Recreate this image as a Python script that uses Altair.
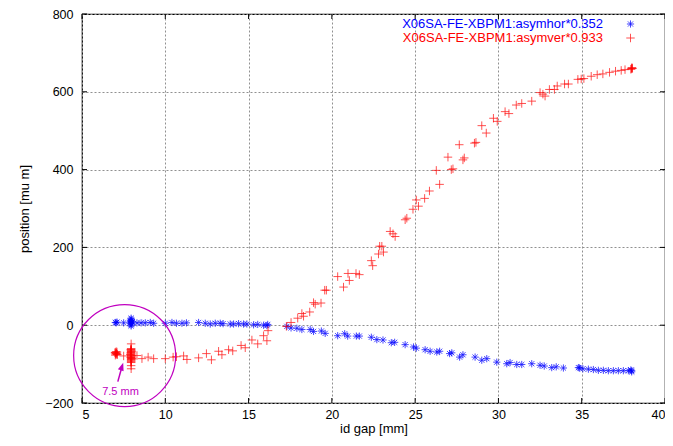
import altair as alt
import pandas as pd

# ---------------- data ----------------
hor_gap = [7.0, 7.05, 7.1, 7.5, 7.9, 7.95, 7.95, 7.95, 7.95, 8.0,
           8.3, 8.55, 8.8, 9.1, 9.3, 10.0, 10.4, 10.67, 11.0, 11.27,
           12.0, 12.4, 12.7, 13.0, 13.3, 13.47, 13.9, 14.1, 14.4, 14.7,
           14.9, 15.3, 15.55, 15.9, 16.1, 16.15, 17.3, 17.55, 17.9, 18.2,
           18.7, 18.9, 19.37, 19.6, 20.35, 20.77, 20.95, 21.47, 21.65, 22.37,
           22.7, 23.07, 23.57, 23.77, 24.4, 24.9, 25.07, 25.6, 25.9, 26.3,
           26.47, 27.07, 27.2, 27.67, 27.87, 28.6, 29.0, 29.3, 29.9, 30.5,
           30.7, 31.1, 31.4, 32.0, 32.5, 32.75, 33.2, 33.47, 33.9, 34.8,
           34.87, 35.07, 35.4, 35.7, 36.0, 36.3, 36.6, 36.9, 37.2, 37.5,
           37.8, 37.95, 38.0, 38.0, 7.95, 7.95, 7.9, 8.0]
hor_pos = [7, 6, 8, 6, 10, 18, 12, 4, -2, 8,
           6, 6, 6, 7, 5, 5, 7, 5, 5, 6,
           7, 5, 3, 5, 5, 4, 3, 3, 4, 3,
           3, 1, 2, 0, -1, 2, -3, -7, -8, -11,
           -11, -16, -15, -21, -27, -22, -28, -28, -28, -31,
           -37, -38, -45, -44, -50, -56, -59, -63, -67, -69,
           -67, -73, -71, -82, -76, -82, -90, -86, -95, -99,
           -96, -101, -101, -99, -103, -105, -109, -107, -110, -109,
           -110, -112, -113, -114, -116, -116, -117, -117, -117, -117,
           -117, -115, -117, -120, 15, 1, 6, 9]

ver_gap = [7.0, 7.05, 7.1, 7.05, 7.5, 7.95, 7.95, 7.95, 7.95, 7.95,
           7.95, 7.95, 7.95, 7.95, 7.95, 7.9, 8.0, 8.3, 8.6, 8.97,
           9.3, 10.0, 10.47, 10.67, 11.1, 11.3, 12.0, 12.47, 12.77, 13.2,
           13.4, 13.8, 14.05, 14.55, 14.8, 15.2, 15.55, 15.9, 16.1, 16.17,
           17.27, 17.55, 17.95, 18.2, 18.3, 18.67, 18.9, 19.0, 19.35, 19.57,
           19.67, 20.35, 20.7, 20.97, 21.05, 21.45, 21.65, 22.37, 22.45, 22.8,
           22.87, 23.0, 23.1, 23.5, 23.67, 23.8, 24.4, 24.5, 24.87, 25.07,
           25.2, 25.57, 25.86, 26.27, 26.47, 26.97, 27.17, 27.27, 27.65, 27.87,
           27.95, 28.56, 28.65, 29.0, 29.27, 29.7, 29.93, 30.4, 30.63, 31.07,
           31.4, 32.0, 32.5, 32.67, 32.8, 33.06, 33.36, 33.53, 33.97, 34.2,
           34.77, 34.97, 35.13, 35.57, 35.93, 36.27, 36.67, 37.03, 37.37, 37.6,
           37.95, 38.0, 38.05,
           6.98, 7.02, 7.08, 7.12, 7.0, 7.1,
           7.95, 7.95, 7.95, 7.95, 7.95, 7.95, 7.95, 7.95, 7.95, 7.95,
           7.93, 7.97, 7.93, 7.97, 7.93, 7.97, 7.95, 7.95,
           37.98, 38.02]
ver_pos = [-70, -73, -76, -68, -79, -48, -60, -66, -72, -78,
           -84, -90, -96, -104, -112, -75, -85, -78, -86, -82,
           -86, -86, -82, -81, -79, -88, -84, -73, -89, -67,
           -76, -63, -66, -52, -58, -38, -48, -27, -40, -14,
           -3, 7, 18, 30, 23, 34, 58, 54, 57, 90,
           90, 125, 98, 133, 115, 133, 130, 166, 153, 183,
           203, 203, 188, 241, 235, 228, 271, 275, 298, 322,
           306, 326, 345, 398, 362, 432, 400, 402, 464, 425,
           430, 468, 470, 513, 494, 532, 524, 549, 544, 566,
           570, 576, 598, 594, 589, 606, 606, 615, 620, 620,
           632, 633, 634, 640, 644, 646, 650, 653, 655, 657,
           658, 661, 660,
           -71, -74, -72, -75, -77, -69,
           -62, -64, -68, -70, -74, -76, -80, -82, -86, -88,
           -63, -67, -71, -79, -83, -87, -92, -94,
           659, 662]

series_labels = ["X06SA-FE-XBPM1:asymhor*0.352", "X06SA-FE-XBPM1:asymver*0.933"]
x_ticks = [5, 10, 15, 20, 25, 30, 35, 40]
y_ticks = [-200, 0, 200, 400, 600, 800]

# annotation (circle around 7.5 mm region, arrow and label)
circle_gap, circle_pos = [7.56], [-78]
arrow_gap, arrow_pos, arrow_gap2, arrow_pos2 = [7.15], [-145], [7.39], [-108]
head_gap, head_pos = [7.40], [-106]
note_gap, note_pos, note_text = [7.31], [-172], ["7.5 mm"]

assert len(hor_gap) == len(hor_pos) and len(ver_gap) == len(ver_pos)

# ---------------- chart ----------------
W, H = 583, 389
FONT = "Liberation Sans"
BLUE, RED, MAG = "#0000ff", "#ff0000", "#c000c0"
PLUS = "M-1,0L1,0M0,-1L0,1"
STAR = "M-1,0L1,0M0,-1L0,1M-0.72,-0.72L0.72,0.72M-0.72,0.72L0.72,-0.72"
HEAD = "M0,-1L0.75,1L-0.75,1Z"

xs = alt.Scale(domain=[5, 40], nice=False, zero=False)
ys = alt.Scale(domain=[-200, 800], nice=False, zero=False)
common = dict(grid=True, gridDash=[2, 2], gridColor="#909090", gridWidth=1,
              tickSize=0, domain=False, labelFontSize=12.5, labelFont=FONT,
              labelColor="black", titleFont=FONT, titleFontSize=13,
              titleFontWeight="normal", titleColor="black")
xaxis = alt.Axis(values=x_ticks, title="id gap [mm]", labelPadding=5, titlePadding=2, **common)
yaxis = alt.Axis(values=y_ticks, title="position [mu m]", labelPadding=9, titlePadding=13, **common)
X = alt.X("gap:Q", scale=xs, axis=xaxis)
Y = alt.Y("pos:Q", scale=ys, axis=yaxis)

hor = pd.DataFrame({"gap": hor_gap, "pos": hor_pos})
ver = pd.DataFrame({"gap": ver_gap, "pos": ver_pos})

blue = alt.Chart(hor).mark_point(shape=STAR, size=52, filled=False, stroke=BLUE,
                                 strokeWidth=0.8, opacity=0.9).encode(x=X, y=Y)
red = alt.Chart(ver).mark_point(shape=PLUS, size=72, filled=False, stroke=RED,
                                strokeWidth=0.8, opacity=0.85).encode(x=X, y=Y)

# inner ticks (gnuplot style, on all four sides)
xt = pd.DataFrame({"gap": x_ticks})
yt = pd.DataFrame({"pos": y_ticks})
tick_style = dict(color="black", strokeWidth=1)
xt_bot = alt.Chart(xt).mark_rule(**tick_style).encode(x=X, y=alt.value(H), y2=alt.value(H - 5))
xt_top = alt.Chart(xt).mark_rule(**tick_style).encode(x=X, y=alt.value(0), y2=alt.value(5))
yt_left = alt.Chart(yt).mark_rule(**tick_style).encode(y=Y, x=alt.value(0), x2=alt.value(5))
yt_right = alt.Chart(yt).mark_rule(**tick_style).encode(y=Y, x=alt.value(W), x2=alt.value(W - 5))

# legend (top right, label then symbol)
leg1 = pd.DataFrame({"label": [series_labels[0]]})
leg2 = pd.DataFrame({"label": [series_labels[1]]})
lt1 = alt.Chart(leg1).mark_text(align="right", baseline="middle", font=FONT, fontSize=13,
                                color=BLUE).encode(text="label:N", x=alt.value(521), y=alt.value(9.5))
lt2 = alt.Chart(leg2).mark_text(align="right", baseline="middle", font=FONT, fontSize=13,
                                color=RED).encode(text="label:N", x=alt.value(521), y=alt.value(23.5))
ls1 = alt.Chart(leg1).mark_point(shape=STAR, size=52, filled=False, stroke=BLUE,
                                 strokeWidth=0.8, opacity=0.9).encode(x=alt.value(548.5), y=alt.value(10))
ls2 = alt.Chart(leg2).mark_point(shape=PLUS, size=72, filled=False, stroke=RED,
                                 strokeWidth=0.8, opacity=0.85).encode(x=alt.value(548.5), y=alt.value(24))

# annotation
circ = alt.Chart(pd.DataFrame({"gap": circle_gap, "pos": circle_pos})).mark_point(
    shape="circle", size=10404, filled=False, stroke=MAG, strokeWidth=1.2, opacity=1
).encode(x=X, y=Y)
arrow = alt.Chart(pd.DataFrame({"gap": arrow_gap, "pos": arrow_pos,
                                "gap2": arrow_gap2, "pos2": arrow_pos2})).mark_rule(
    color=MAG, strokeWidth=1.5).encode(x=X, y=Y, x2="gap2:Q", y2="pos2:Q")
head = alt.Chart(pd.DataFrame({"gap": head_gap, "pos": head_pos})).mark_point(
    shape=HEAD, size=64, filled=True, color=MAG, opacity=1, angle=18
).encode(x=X, y=Y)
note = alt.Chart(pd.DataFrame({"gap": note_gap, "pos": note_pos, "t": note_text})).mark_text(
    font=FONT, fontSize=11, color=MAG, align="center", baseline="middle"
).encode(x=X, y=Y, text="t:N")

chart = alt.layer(
    xt_bot, xt_top, yt_left, yt_right,
    blue, red, circ, arrow, head, note,
    lt1, lt2, ls1, ls2,
).properties(
    width=W, height=H,
    autosize=alt.AutoSizeParams(type="none"),
    padding={"left": 74, "top": 6, "right": 0, "bottom": 35},
    background="white",
).configure_view(stroke="black", strokeWidth=1.2)

chart.save("out.html", embed_options={"renderer": "svg", "actions": False})
